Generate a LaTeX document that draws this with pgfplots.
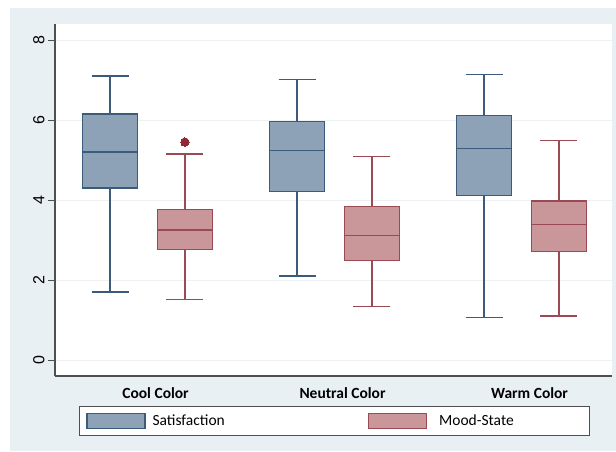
\documentclass[border=0pt]{standalone}
\usepackage{fontspec}
\setmainfont{Carlito}
\newfontfamily\arialfont{Liberation Sans}
\usepackage{pgfplots}
\pgfplotsset{compat=1.18}
\usepgfplotslibrary{statistics}
\definecolor{bgc}{HTML}{E8F0F3}
\definecolor{gridc}{HTML}{EDF1F3}
\definecolor{axisc}{HTML}{4F4F4F}
\definecolor{satF}{HTML}{8DA2B7}
\definecolor{satE}{HTML}{3C5A7A}
\definecolor{moodF}{HTML}{C9969A}
\definecolor{moodE}{HTML}{994A52}
\definecolor{outc}{HTML}{8E2A36}
\begin{document}
\begin{tikzpicture}
\path[use as bounding box] (0pt,0pt) rectangle (616pt,451pt);
\fill[bgc] (10pt,0pt) rectangle (616pt,443pt);
\draw[axisc, line width=1pt, fill=white] (79pt,16pt) rectangle (589pt,44.3pt);
\begin{axis}[
  at={(55pt,75pt)}, anchor=south west,
  scale only axis, width=557pt, height=352pt,
  xmin=-0.4947, xmax=2.484, ymin=-0.4, ymax=8.4,
  axis background/.style={fill=white},
  axis x line*=bottom, axis y line*=left,
  axis line style={-, color=axisc, line width=1.2pt},
  every outer x axis line/.append style={-},
  every outer y axis line/.append style={-},
  xtick={0.043,1.043,2.043},
  xticklabels={Cool Color,Neutral Color,Warm Color},
  xtick style={draw=none},
  xticklabel style={font=\fontsize{15.5}{16}\selectfont\bfseries, yshift=-1pt},
  ytick={0,2,4,6,8},
  tick align=outside, major tick length=7pt,
  ytick style={color=axisc, line width=1pt},
  yticklabel style={rotate=90, anchor=south, font=\fontsize{16}{16}\selectfont\arialfont},
  /pgf/number format/assume math mode=true,
  ymajorgrids, grid style={gridc, line width=0.8pt},
  legend columns=2,
  legend style={draw=none, fill=none, inner sep=0pt,
    at={(0.0557,-0.1278)}, anchor=west,
    nodes={inner sep=0pt, font=\fontsize{15.5}{16}\selectfont},
    cells={anchor=west},
    /tikz/column 1/.style={column sep=7pt},
    /tikz/column 2/.style={column sep=143pt},
    /tikz/column 3/.style={column sep=12pt}},
  boxplot/draw direction=y,
  boxplot/box extend=0.294,
  boxplot/whisker extend=0.198,
]
% Satisfaction
\addplot[forget plot, draw=satE, fill=satF, line width=1.3pt,
  boxplot prepared={draw position=-0.2, lower whisker=1.7, lower quartile=4.3,
  median=5.2, upper quartile=6.15, upper whisker=7.1}] coordinates {};
\addplot[forget plot, draw=satE, fill=satF, line width=1.3pt,
  boxplot prepared={draw position=0.8, lower whisker=2.1, lower quartile=4.21,
  median=5.24, upper quartile=5.96, upper whisker=7.02}] coordinates {};
\addplot[forget plot, draw=satE, fill=satF, line width=1.3pt,
  boxplot prepared={draw position=1.8, lower whisker=1.07, lower quartile=4.12,
  median=5.29, upper quartile=6.11, upper whisker=7.14}] coordinates {};
% Mood-State
\addplot[forget plot, draw=moodE, fill=moodF, line width=1.3pt,
  mark=*, mark size=4.2pt, mark options={fill=outc, draw=outc, line width=0pt},
  boxplot prepared={draw position=0.2, lower whisker=1.52, lower quartile=2.76,
  median=3.25, upper quartile=3.77, upper whisker=5.15}]
  table[row sep=\\, y index=0] {data\\ 5.45\\};
\addplot[forget plot, draw=moodE, fill=moodF, line width=1.3pt,
  boxplot prepared={draw position=1.2, lower whisker=1.33, lower quartile=2.48,
  median=3.12, upper quartile=3.83, upper whisker=5.08}] coordinates {};
\addplot[forget plot, draw=moodE, fill=moodF, line width=1.3pt,
  boxplot prepared={draw position=2.2, lower whisker=1.1, lower quartile=2.72,
  median=3.38, upper quartile=3.975, upper whisker=5.48}] coordinates {};
\addlegendimage{legend image code/.code={\draw[fill=satF, draw=satE, line width=1.3pt] (0pt,-7.8pt) rectangle (58pt,7.8pt);}}
\addlegendentry{Satisfaction}
\addlegendimage{legend image code/.code={\draw[fill=moodF, draw=moodE, line width=1.3pt] (0pt,-7.8pt) rectangle (58pt,7.8pt);}}
\addlegendentry{Mood-State}
\end{axis}
\end{tikzpicture}
\end{document}
